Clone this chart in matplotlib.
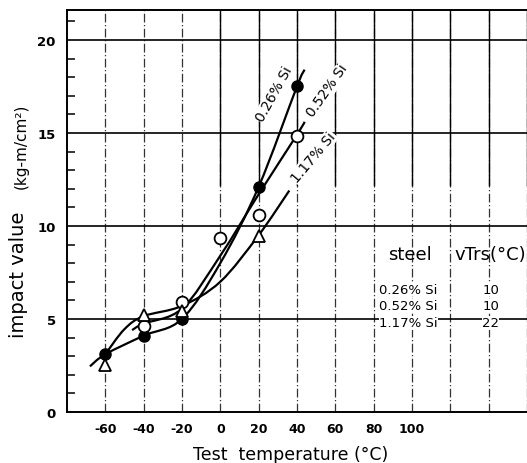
import numpy as np
import matplotlib.pyplot as plt
from matplotlib.path import Path
from matplotlib.patches import PathPatch

plt.rcParams['font.family'] = ['DejaVu Sans']

# measured Charpy values
temp_026 = [-60, -40, -20, 20, 40]
val_026 = [3.1, 4.1, 5.0, 12.1, 17.5]
temp_052 = [-40, -20, 0, 20, 40]
val_052 = [4.6, 5.9, 9.35, 10.6, 14.85]
temp_117 = [-60, -40, -20, 20]
val_117 = [2.5, 5.2, 5.45, 9.45]

# hand-drawn transition curves (knots)
curve_026 = [(-68, 2.45), (-60, 3.1), (-40, 4.1), (-20, 5.0), (0, 8.0), (20, 12.1), (40, 17.5), (44, 18.4)]
curve_052 = [(-46, 4.4), (-40, 4.75), (-20, 5.55), (0, 8.4), (20, 11.7), (40, 14.9), (44, 15.6)]
curve_117 = [(-60, 3.1), (-50, 4.45), (-40, 5.15), (-20, 5.7), (0, 7.0), (20, 9.5), (36, 11.9)]

steels = ['0.26% Si', '0.52% Si', '1.17% Si']
vtrs = [10, 10, 22]

x_ticks = [-60, -40, -20, 0, 20, 40, 60, 80, 100]
grid_x = [-60, -40, -20, 0, 20, 40, 60, 80, 100, 120, 140, 160]
grid_y = [5, 10, 15, 20]


def smooth_path(knots):
    # Catmull-Rom through the knots, written as cubic Bezier segments
    p = np.array(knots, dtype=float)
    p = np.vstack([p[0], p, p[-1]])
    verts = [p[1]]
    codes = [Path.MOVETO]
    for i in range(1, len(p) - 2):
        c1 = p[i] + (p[i + 1] - p[i - 1]) / 6
        c2 = p[i + 1] - (p[i + 2] - p[i]) / 6
        verts += [c1, c2, p[i + 1]]
        codes += [Path.CURVE4] * 3
    return Path(verts, codes)


fig = plt.figure(figsize=(5.27, 4.64), dpi=100)
ax = fig.add_axes([0.127, 0.110, 0.873, 0.866])
ax.set_xlim(-80, 160)
ax.set_ylim(0, 21.6)

# grid
for gx in grid_x:
    ax.plot([gx, gx], [0, 21.6], color='0.2', lw=0.9,
            linestyle=(0, (7, 2, 1, 2)), zorder=1)
    if gx >= 0:
        ax.plot([gx, gx], [12.2, 21.6], color='black', lw=1.0, zorder=1)
for gy in grid_y:
    ax.axhline(gy, color='black', lw=1.2, zorder=1)

for knots in (curve_026, curve_052, curve_117):
    ax.add_patch(PathPatch(smooth_path(knots), facecolor='none',
                           edgecolor='black', lw=1.6, zorder=3))

ax.plot(temp_026, val_026, 'o', ms=8, color='black', zorder=4)
ax.plot(temp_052, val_052, 'o', ms=8.5, mfc='white', mec='black', mew=1.3, zorder=5)
ax.plot(temp_117, val_117, '^', ms=8, mfc='white', mec='black', mew=1.3, zorder=5)

# curve labels
lab_kw = dict(fontsize=10, ha='center', va='center', zorder=6,
              bbox=dict(facecolor='white', edgecolor='none', pad=0.5))
ax.text(28, 17.1, steels[0], rotation=61, **lab_kw)
ax.text(56, 17.3, steels[1], rotation=55, **lab_kw)
ax.text(48.5, 13.7, steels[2], rotation=50, **lab_kw)

# vTrs table
ax.text(99, 8.5, 'steel', fontsize=13, ha='center', va='center', zorder=6)
ax.text(141, 8.5, 'vTrs(°C)', fontsize=13, ha='center', va='center', zorder=6)
for i, (name, v) in enumerate(zip(steels, vtrs)):
    yy = 6.6 - i * 0.9
    ax.text(83, yy, name, fontsize=9.5, ha='left', va='center', zorder=6,
            bbox=dict(facecolor='white', edgecolor='none', pad=0.3))
    ax.text(141, yy, str(v), fontsize=9.5, ha='center', va='center', zorder=6,
            bbox=dict(facecolor='white', edgecolor='none', pad=0.3))

# axes styling
ax.spines['right'].set_visible(False)
for s in ('left', 'bottom', 'top'):
    ax.spines[s].set_linewidth(1.4)
ax.set_xticks(x_ticks)
ax.set_xticklabels([str(t) for t in x_ticks], fontsize=9, fontweight='bold')
ax.set_yticks([0, 5, 10, 15, 20])
ax.set_yticklabels(['0', '5', '10', '15', '20'], fontsize=9.5, fontweight='bold')
ax.set_yticks([v for v in range(1, 22) if v % 5], minor=True)
ax.tick_params(axis='x', length=0, pad=7)
ax.tick_params(axis='y', which='major', length=0, pad=8)
ax.tick_params(axis='y', which='minor', direction='in', length=6, width=1.1)

fig.text(0.552, 0.02, 'Test  temperature (°C)', fontsize=12.5, ha='center', va='center')
fig.text(0.036, 0.408, 'impact value', fontsize=14, rotation=90, ha='center', va='center')
fig.text(0.040, 0.684, '(kg-m/cm²)', fontsize=11, rotation=90, ha='center', va='center')

fig.savefig('out.png', dpi=100)
